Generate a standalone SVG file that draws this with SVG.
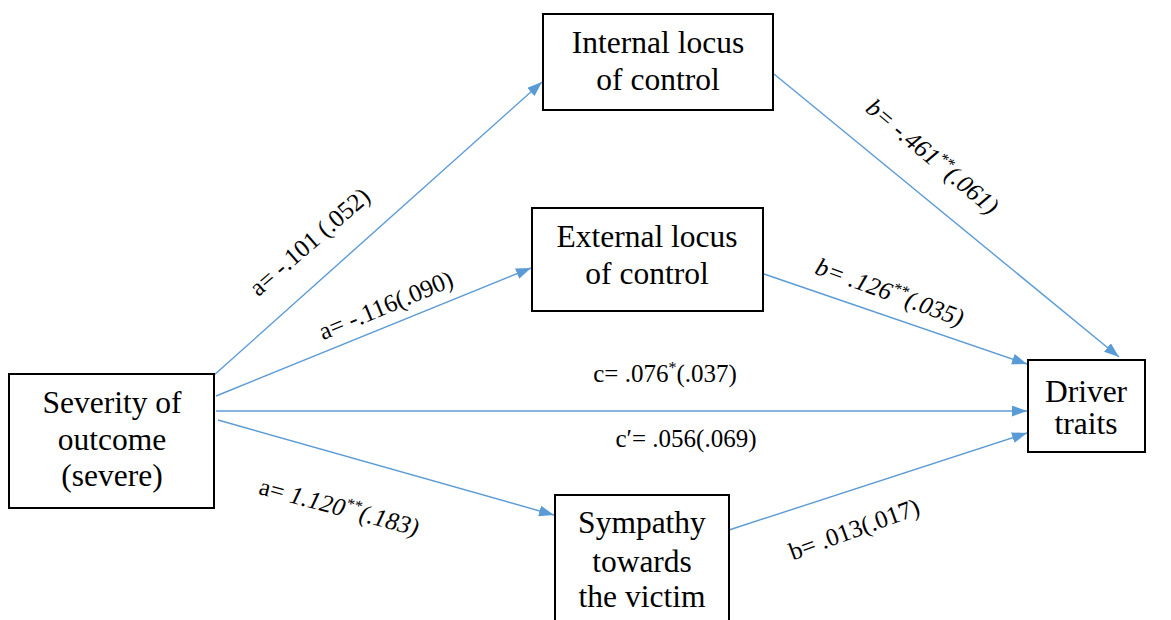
<svg xmlns="http://www.w3.org/2000/svg" width="1171" height="620" viewBox="0 0 1171 620">
<style>
#labels text, #labels tspan, #node-internal text, #node-external text, #node-severity text, #node-driver text, #node-sympathy text, svg g text, svg text, text, tspan {font-family:'Liberation Serif','Times New Roman',serif !important}
.box{fill:#fff;stroke:#000;stroke-width:2}
.conn line{stroke:#5B9BD5;stroke-width:1.4;fill:none}
</style>
<defs>
<marker id="ah" markerUnits="userSpaceOnUse" markerWidth="16" markerHeight="11" refX="15" refY="5.5" orient="auto">
<path d="M0,0 L15,5.5 L0,11 z" fill="#5B9BD5"/>
</marker>
</defs>
<rect width="1171" height="620" fill="#fff"/>
<g id="connectors" class="conn">
<line x1="213" y1="376" x2="542" y2="82" marker-end="url(#ah)"/>
<line x1="216" y1="396" x2="531" y2="268" marker-end="url(#ah)"/>
<line x1="216" y1="411" x2="1027" y2="411" marker-end="url(#ah)"/>
<line x1="218" y1="420" x2="554" y2="515" marker-end="url(#ah)"/>
<line x1="774" y1="74" x2="1119" y2="357" marker-end="url(#ah)"/>
<line x1="764" y1="274" x2="1027" y2="364" marker-end="url(#ah)"/>
<line x1="729" y1="530" x2="1027" y2="433" marker-end="url(#ah)"/>
</g>
<g id="labels" font-family="Liberation Serif" font-size="25" fill="#000" text-anchor="middle">
<text font-family="Liberation Serif" transform="translate(315,248) rotate(-41)">a= -.101 (.052)</text>
<text font-family="Liberation Serif" transform="translate(389,313) rotate(-22.5)">a= -.116(.090)</text>
<text font-family="Liberation Serif" font-style="italic" transform="translate(927,163) rotate(40)">b= -.461<tspan font-size="16" dy="-9">**</tspan><tspan dy="9">(.061)</tspan></text>
<text font-family="Liberation Serif" font-style="italic" transform="translate(887,300) rotate(20)">b= .126<tspan font-size="16" dy="-9">**</tspan><tspan dy="9">(.035)</tspan></text>
<text font-family="Liberation Serif" x="665" y="382">c= .076<tspan font-size="16" dy="-9">*</tspan><tspan dy="9">(.037)</tspan></text>
<text font-family="Liberation Serif" x="686" y="447">c&#8242;= .056(.069)</text>
<text font-family="Liberation Serif" transform="translate(337,515) rotate(15)">a= <tspan font-style="italic">1.120</tspan><tspan font-style="italic" font-size="16" dy="-9">**</tspan><tspan font-style="italic" dy="9">(.183)</tspan></text>
<text font-family="Liberation Serif" transform="translate(857,537) rotate(-20)">b= .013(.017)</text>
</g>
<g id="node-internal" font-family="Liberation Serif" font-size="31.5" text-anchor="middle">
<rect class="box" x="543" y="14" width="230" height="96"/>
<text font-family="Liberation Serif" x="658" y="53">Internal locus</text>
<text font-family="Liberation Serif" x="658" y="90">of control</text>
</g>
<g id="node-external" font-family="Liberation Serif" font-size="31.5" text-anchor="middle">
<rect class="box" x="532" y="208" width="231" height="103"/>
<text font-family="Liberation Serif" x="647" y="247">External locus</text>
<text font-family="Liberation Serif" x="647" y="284">of control</text>
</g>
<g id="node-severity" font-family="Liberation Serif" font-size="31.5" text-anchor="middle">
<rect class="box" x="9" y="374" width="205" height="134"/>
<text font-family="Liberation Serif" x="112" y="413">Severity of</text>
<text font-family="Liberation Serif" x="112" y="450">outcome</text>
<text font-family="Liberation Serif" x="112" y="486">(severe)</text>
</g>
<g id="node-driver" font-family="Liberation Serif" font-size="31.5" text-anchor="middle">
<rect class="box" x="1028" y="360" width="117" height="92"/>
<text font-family="Liberation Serif" x="1086" y="402">Driver</text>
<text font-family="Liberation Serif" x="1086" y="434">traits</text>
</g>
<g id="node-sympathy" font-family="Liberation Serif" font-size="31.5" text-anchor="middle">
<rect class="box" x="555" y="495" width="174" height="140"/>
<text font-family="Liberation Serif" x="642" y="533">Sympathy</text>
<text font-family="Liberation Serif" x="642" y="572">towards</text>
<text font-family="Liberation Serif" x="642" y="607">the victim</text>
</g>
</svg>
